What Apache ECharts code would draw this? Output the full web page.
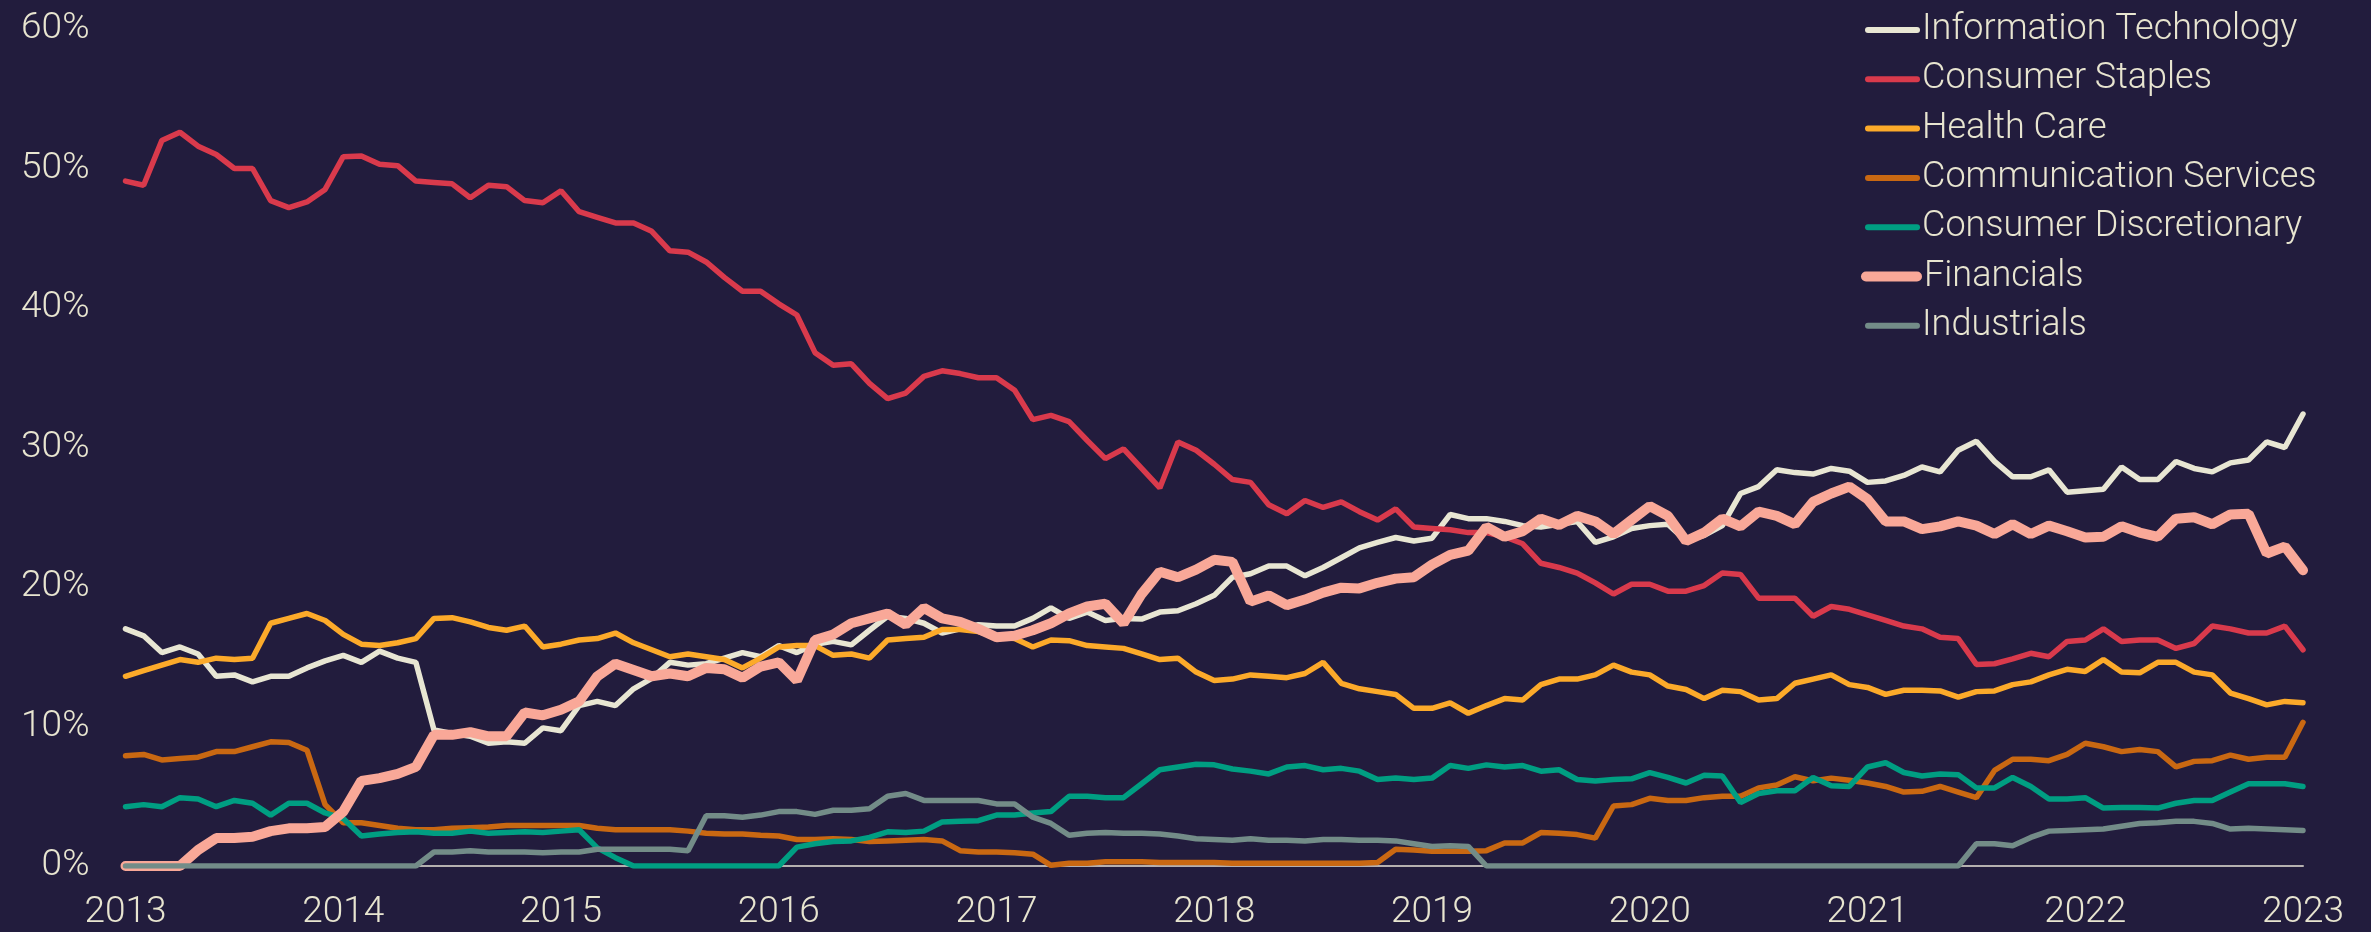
<!DOCTYPE html>
<html lang="en">
<head>
    <meta charset="UTF-8">
    <title>Sector weights</title>
    <style>
        html, body { margin: 0; padding: 0; background: #221c3d; }
        #main { width: 2371px; height: 932px; }
    </style>
</head>
<body>
    <div id="main"></div>
    <script src="https://cdn.jsdelivr.net/npm/echarts@6/dist/echarts.min.js"></script>
    <script>
        // monthly points, Jan 2013 .. Jan 2023
        var years = ['2013','2014','2015','2016','2017','2018','2019','2020','2021','2022','2023'];
        var months = ['01','02','03','04','05','06','07','08','09','10','11','12'];

        var infoTech = [17.0,16.5,15.3,15.7,15.2,13.6,13.7,13.2,13.6,13.6,14.2,14.7,15.1,14.6,15.4,14.9,14.6,9.75,9.5,9.3,8.8,
            8.9,8.8,9.9,9.7,11.5,11.8,11.5,12.7,13.45,14.6,14.4,14.5,14.9,15.3,15.0,15.8,15.3,15.9,16.1,
            15.85,16.9,17.9,17.75,17.4,16.7,17.0,17.3,17.2,17.2,17.75,18.5,17.75,18.2,17.6,17.75,17.7,18.2,18.3,18.8,19.4,
            20.7,20.95,21.5,21.5,20.8,21.4,22.1,22.8,23.2,23.55,23.3,23.5,25.2,24.9,24.9,24.7,24.4,24.3,
            24.5,24.7,23.2,23.6,24.2,24.4,24.5,23.3,23.7,24.4,26.7,27.2,28.4,28.2,28.1,28.5,28.3,27.5,27.6,28.0,
            28.6,28.25,29.8,30.45,29.0,27.9,27.9,28.4,26.8,26.9,27.0,28.6,27.7,27.7,29.0,28.5,28.25,28.9,29.1,30.4,30.0,32.4];

        var staples = [49.1,48.8,52.0,52.6,51.6,51.0,50.0,50.0,47.7,47.2,47.6,48.5,50.85,50.9,50.3,50.2,49.1,49.0,48.9,47.9,48.8,48.7,47.7,47.55,48.4,46.9,46.5,46.1,46.1,45.5,44.1,44.0,43.3,42.2,41.2,41.2,40.3,39.5,
            36.8,35.9,36.0,34.6,33.5,33.9,35.1,35.5,35.3,35.0,35.0,34.1,32.0,32.3,31.85,30.5,29.2,29.9,28.5,27.1,30.4,29.8,28.8,
            27.7,27.5,25.9,25.25,26.2,25.7,26.1,25.4,24.8,25.6,24.3,24.2,24.1,23.9,23.9,23.6,23.1,21.7,21.4,21.0,
            20.3,19.5,20.2,20.2,19.7,19.7,20.1,21.0,20.9,19.2,19.2,19.2,17.9,18.6,18.4,18.0,17.6,17.2,17.0,
            16.4,16.3,14.45,14.5,14.85,15.25,15.0,16.1,16.2,17.0,16.1,16.2,16.2,15.6,15.95,17.2,17.0,16.7,16.7,17.2,15.5];

        var healthCare = [13.6,14.0,14.4,14.8,14.6,14.9,14.8,14.9,17.4,17.75,18.1,17.6,16.6,15.9,15.8,16.0,16.3,17.75,17.8,17.5,17.1,
            16.9,17.2,15.7,15.9,16.2,16.3,16.7,16.0,15.5,15.0,15.2,15.0,14.8,14.2,14.9,15.7,15.8,15.8,15.1,
            15.2,14.9,16.2,16.3,16.4,16.95,16.95,16.8,16.4,16.3,15.7,16.2,16.15,15.8,15.7,15.6,15.2,14.8,14.9,13.9,13.3,
            13.4,13.7,13.6,13.5,13.8,14.6,13.1,12.7,12.5,12.3,11.3,11.3,11.7,10.95,11.5,12.0,11.9,13.0,13.4,13.4,
            13.7,14.4,13.9,13.7,12.9,12.65,12.0,12.6,12.5,11.9,12.0,13.1,13.4,13.7,13.0,12.8,12.3,12.6,12.6,
            12.55,12.1,12.5,12.55,13.0,13.2,13.7,14.1,13.95,14.8,13.9,13.85,14.6,14.6,13.9,13.7,12.4,12.0,11.55,11.8,11.7];

        var commServices = [7.9,8.0,7.6,7.7,7.8,8.2,8.2,8.55,8.9,8.85,8.3,4.4,3.1,3.1,2.9,2.7,2.6,2.6,2.7,2.75,2.8,
            2.9,2.9,2.9,2.9,2.9,2.7,2.6,2.6,2.6,2.6,2.5,2.35,2.3,2.3,2.2,2.15,1.9,1.9,1.95,
            1.9,1.75,1.8,1.85,1.9,1.8,1.1,1.0,1.0,0.95,0.85,0.05,0.2,0.2,0.3,0.3,0.3,0.25,0.25,0.25,0.25,
            0.2,0.2,0.2,0.2,0.2,0.2,0.2,0.2,0.25,1.2,1.15,1.05,1.05,1.05,1.1,1.65,1.65,2.4,2.35,2.25,
            2.0,4.3,4.4,4.85,4.7,4.7,4.9,5.0,5.0,5.6,5.8,6.4,6.1,6.3,6.15,5.95,5.7,5.3,5.35,
            5.7,5.3,4.9,6.85,7.65,7.65,7.55,8.0,8.8,8.55,8.2,8.35,8.2,7.1,7.5,7.55,7.95,7.65,7.8,7.8,10.3];

        var discretionary = [4.25,4.4,4.25,4.9,4.8,4.25,4.7,4.5,3.65,4.5,4.5,3.8,3.4,2.15,2.3,2.4,2.45,2.35,2.35,2.5,2.35,
            2.4,2.45,2.4,2.5,2.6,1.3,0.6,0,0,0,0,0,0,0,0,0,1.35,1.6,1.75,
            1.8,2.05,2.45,2.4,2.5,3.15,3.2,3.25,3.65,3.65,3.8,3.9,5.0,5.0,4.9,4.9,5.9,6.9,7.1,7.3,7.25,
            6.95,6.8,6.6,7.1,7.2,6.9,7.0,6.8,6.2,6.3,6.2,6.3,7.2,7.0,7.25,7.1,7.2,6.8,6.9,6.2,
            6.1,6.2,6.25,6.7,6.35,5.95,6.5,6.45,4.55,5.2,5.4,5.4,6.35,5.75,5.7,7.1,7.4,6.7,6.45,
            6.6,6.55,5.6,5.6,6.35,5.7,4.8,4.8,4.9,4.15,4.2,4.2,4.15,4.5,4.7,4.7,5.3,5.9,5.9,5.9,5.7];

        var financials = [0,0,0,0,1.15,2.0,2.0,2.1,2.5,2.7,2.7,2.8,3.9,6.1,6.3,6.6,7.1,9.4,9.4,9.6,9.3,
            9.3,11.0,10.8,11.2,11.8,13.6,14.5,14.05,13.6,13.8,13.6,14.2,14.1,13.5,14.3,14.6,13.3,16.2,16.6,
            17.4,17.75,18.1,17.3,18.5,17.75,17.5,17.0,16.4,16.5,16.9,17.4,18.1,18.6,18.8,17.4,19.5,21.1,20.7,21.25,21.95,
            21.8,18.95,19.4,18.7,19.1,19.6,19.95,19.9,20.3,20.6,20.7,21.6,22.3,22.6,24.3,23.6,24.0,24.9,24.45,25.1,
            24.7,23.8,24.8,25.8,25.1,23.3,23.9,24.9,24.35,25.4,25.1,24.5,26.1,26.7,27.2,26.3,24.7,24.7,24.15,
            24.35,24.7,24.4,23.8,24.5,23.8,24.4,24.0,23.55,23.6,24.35,23.9,23.6,24.9,25.0,24.5,25.2,25.25,22.4,22.9,21.2];

        var industrials = [0,0,0,0,0,0,0,0,0,0,0,0,0,0,0,0,0,1.0,1.0,1.1,1.0,
            1.0,1.0,0.95,1.0,1.0,1.2,1.2,1.2,1.2,1.2,1.1,3.6,3.6,3.5,3.65,3.9,3.9,3.7,4.0,
            4.0,4.1,5.0,5.2,4.7,4.7,4.7,4.7,4.45,4.45,3.5,3.05,2.2,2.35,2.4,2.35,2.35,2.3,2.15,1.95,1.9,
            1.85,1.95,1.85,1.85,1.8,1.9,1.9,1.85,1.85,1.8,1.6,1.4,1.45,1.4,0,0,0,0,0,0,
            0,0,0,0,0,0,0,0,0,0,0,0,0,0,0,0,0,0,0,0,0,
            1.6,1.6,1.45,2.05,2.5,2.55,2.6,2.65,2.85,3.05,3.1,3.2,3.2,3.05,2.65,2.7,2.65,2.6,2.55];

        var names = ['Information Technology','Consumer Staples','Health Care','Communication Services','Consumer Discretionary','Financials','Industrials'];
        var colors = ['#e8e6d3','#d93a4c','#fcaa2a','#c96812','#009e82','#f9a898','#738c88'];
        var widths = [5.5,5.5,5.5,5.5,5.5,10,5.5];
        var values = [infoTech, staples, healthCare, commServices, discretionary, financials, industrials];

        // category labels, one per month
        var dates = [];
        for (var y = 0; y < years.length; y++) {
            for (var m = 0; m < months.length; m++) {
                if (y == years.length - 1 && m > 0) break;
                dates.push(years[y] + '-' + months[m]);
            }
        }

        var textColor = '#e8e5d0';
        var font = 'Roboto';

        var series = [];
        for (var i = 0; i < names.length; i++) {
            series.push({
                name: names[i],
                type: 'line',
                data: values[i],
                showSymbol: false,
                symbol: 'none',
                color: colors[i],
                lineStyle: { width: widths[i], color: colors[i], cap: 'round' }
            });
        }

        // capsule shaped legend keys
        var thinKey = 'path://M3,0 H52 A3,3 0 0 1 52,6 H3 A3,3 0 0 1 3,0 Z';
        var thickKey = 'path://M5,0 H56 A5,5 0 0 1 56,10 H5 A5,5 0 0 1 5,0 Z';

        var rowStep = 49.3;
        var firstRow = 25;
        var rowLine = 38;

        function makeLegend(list, row, icon, w, h, left) {
            return {
                orient: 'vertical',
                left: left,
                top: firstRow + row * rowStep - rowLine / 2,
                itemWidth: w,
                itemHeight: h,
                itemGap: rowStep - rowLine,
                icon: icon,
                data: list,
                textStyle: {
                    color: textColor,
                    fontSize: 36,
                    lineHeight: rowLine,
                    fontFamily: font,
                    fontWeight: 300,
                    padding: [0, 0, 0, -3]
                }
            };
        }

        var myChart = echarts.init(document.getElementById('main'));

        var option = {
            backgroundColor: '#221c3d',
            animation: false,
            textStyle: { fontFamily: font, fontWeight: 300 },
            grid: {
                left: 125.5,
                right: 68,
                top: 29,
                bottom: 66
            },
            legend: [
                makeLegend(names.slice(0, 5), 0, thinKey, 55, 6, 1860),
                makeLegend(['Financials'], 5, thickKey, 61, 10, 1856),
                makeLegend(['Industrials'], 6, thinKey, 55, 6, 1860)
            ],
            xAxis: {
                type: 'category',
                boundaryGap: false,
                data: dates,
                axisLine: { lineStyle: { color: '#b5b0b0', width: 2 } },
                axisTick: { show: false },
                axisLabel: {
                    color: textColor,
                    fontSize: 37,
                    fontFamily: font,
                    fontWeight: 300,
                    margin: 28,
                    interval: function (index) { return index % 12 === 0; },
                    formatter: function (v) { return v.slice(0, 4); }
                },
                splitLine: { show: false }
            },
            yAxis: {
                type: 'value',
                min: 0,
                max: 60,
                interval: 10,
                axisLine: { show: false },
                axisTick: { show: false },
                splitLine: { show: false },
                axisLabel: {
                    color: textColor,
                    fontSize: 37,
                    fontFamily: font,
                    fontWeight: 300,
                    margin: 36,
                    formatter: '{value}%'
                }
            },
            series: series
        };

        myChart.setOption(option);
    </script>
</body>
</html>
